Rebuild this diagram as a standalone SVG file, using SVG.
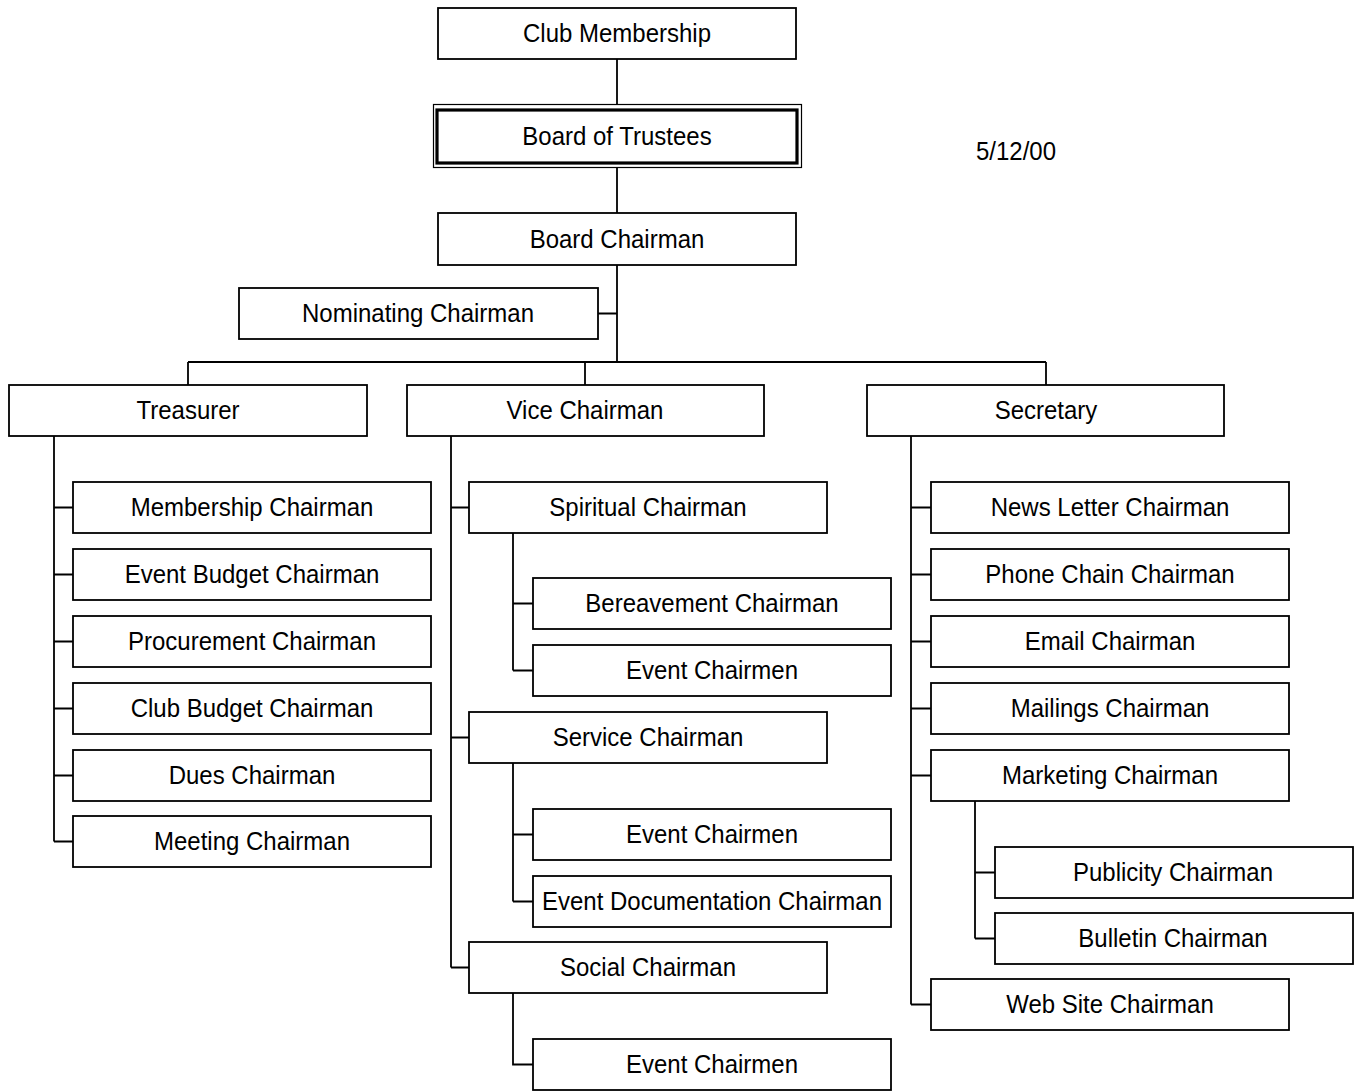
<svg xmlns="http://www.w3.org/2000/svg" width="1356" height="1091" viewBox="0 0 1356 1091">
<style>
.box{fill:#fff;stroke:#000;stroke-width:1.8}
.thin{fill:#fff;stroke:#000;stroke-width:1.2}
.thick{fill:none;stroke:#000;stroke-width:3.2}
.lbl{font-family:"Liberation Sans",Arial,sans-serif;font-size:24px;fill:#000;text-anchor:middle}
#connectors path{fill:none;stroke:#000;stroke-width:1.8}
</style>
<rect width="1356" height="1091" fill="#fff"/>
<g id="connectors">
<path d="M617 59V104M617 168V213M617 265V362M598 313.5H617M188 362H1046M188 362V385M585 362V385M1046 362V385"/>
<path d="M54 436V841.5M54 507.5H73M54 574.5H73M54 641.5H73M54 708.5H73M54 775.5H73M54 841.5H73"/>
<path d="M451 436V967.5M451 507.5H469M451 737.5H469M451 967.5H469"/>
<path d="M513 533V670.5M513 603.5H533M513 670.5H533"/>
<path d="M513 763V901.5M513 834.5H533M513 901.5H533"/>
<path d="M513 993V1064.5H533"/>
<path d="M911 436V1004.5M911 507.5H931M911 574.5H931M911 641.5H931M911 708.5H931M911 775.5H931M911 1004.5H931"/>
<path d="M975 801V938.5M975 872.5H995M975 938.5H995"/>
</g>
<g id="club"><rect class="box" x="438" y="8" width="358" height="51"/><text class="lbl" transform="translate(617 42) scale(1 1.1)">Club Membership</text></g>
<g id="trustees"><rect class="thin" x="433.5" y="104.5" width="368" height="63"/><rect class="thick" x="437" y="110" width="360" height="53"/><text class="lbl" transform="translate(617 145) scale(1 1.1)">Board of Trustees</text></g>
<g id="chairman"><rect class="box" x="438" y="213" width="358" height="52"/><text class="lbl" transform="translate(617 248) scale(1 1.1)">Board Chairman</text></g>
<g id="date"><text class="lbl" transform="translate(1016 160) scale(1 1.1)">5/12/00</text></g>
<g id="nominating"><rect class="box" x="239" y="288" width="359" height="51"/><text class="lbl" transform="translate(418 322) scale(1 1.1)">Nominating Chairman</text></g>
<g id="treasurer"><rect class="box" x="9" y="385" width="358" height="51"/><text class="lbl" transform="translate(188 419) scale(1 1.1)">Treasurer</text></g>
<g id="vice"><rect class="box" x="407" y="385" width="357" height="51"/><text class="lbl" transform="translate(585 419) scale(1 1.1)">Vice Chairman</text></g>
<g id="secretary"><rect class="box" x="867" y="385" width="357" height="51"/><text class="lbl" transform="translate(1046 419) scale(1 1.1)">Secretary</text></g>
<g id="membership"><rect class="box" x="73" y="482" width="358" height="51"/><text class="lbl" transform="translate(252 516) scale(1 1.1)">Membership Chairman</text></g>
<g id="eventbudget"><rect class="box" x="73" y="549" width="358" height="51"/><text class="lbl" transform="translate(252 583) scale(1 1.1)">Event Budget Chairman</text></g>
<g id="procurement"><rect class="box" x="73" y="616" width="358" height="51"/><text class="lbl" transform="translate(252 650) scale(1 1.1)">Procurement Chairman</text></g>
<g id="clubbudget"><rect class="box" x="73" y="683" width="358" height="51"/><text class="lbl" transform="translate(252 717) scale(1 1.1)">Club Budget Chairman</text></g>
<g id="dues"><rect class="box" x="73" y="750" width="358" height="51"/><text class="lbl" transform="translate(252 784) scale(1 1.1)">Dues Chairman</text></g>
<g id="meeting"><rect class="box" x="73" y="816" width="358" height="51"/><text class="lbl" transform="translate(252 850) scale(1 1.1)">Meeting Chairman</text></g>
<g id="spiritual"><rect class="box" x="469" y="482" width="358" height="51"/><text class="lbl" transform="translate(648 516) scale(1 1.1)">Spiritual Chairman</text></g>
<g id="bereavement"><rect class="box" x="533" y="578" width="358" height="51"/><text class="lbl" transform="translate(712 612) scale(1 1.1)">Bereavement Chairman</text></g>
<g id="event1"><rect class="box" x="533" y="645" width="358" height="51"/><text class="lbl" transform="translate(712 679) scale(1 1.1)">Event Chairmen</text></g>
<g id="service"><rect class="box" x="469" y="712" width="358" height="51"/><text class="lbl" transform="translate(648 746) scale(1 1.1)">Service Chairman</text></g>
<g id="event2"><rect class="box" x="533" y="809" width="358" height="51"/><text class="lbl" transform="translate(712 843) scale(1 1.1)">Event Chairmen</text></g>
<g id="eventdoc"><rect class="box" x="533" y="876" width="358" height="51"/><text class="lbl" transform="translate(712 910) scale(1 1.1)">Event Documentation Chairman</text></g>
<g id="social"><rect class="box" x="469" y="942" width="358" height="51"/><text class="lbl" transform="translate(648 976) scale(1 1.1)">Social Chairman</text></g>
<g id="event3"><rect class="box" x="533" y="1039" width="358" height="51"/><text class="lbl" transform="translate(712 1073) scale(1 1.1)">Event Chairmen</text></g>
<g id="newsletter"><rect class="box" x="931" y="482" width="358" height="51"/><text class="lbl" transform="translate(1110 516) scale(1 1.1)">News Letter Chairman</text></g>
<g id="phonechain"><rect class="box" x="931" y="549" width="358" height="51"/><text class="lbl" transform="translate(1110 583) scale(1 1.1)">Phone Chain Chairman</text></g>
<g id="email"><rect class="box" x="931" y="616" width="358" height="51"/><text class="lbl" transform="translate(1110 650) scale(1 1.1)">Email Chairman</text></g>
<g id="mailings"><rect class="box" x="931" y="683" width="358" height="51"/><text class="lbl" transform="translate(1110 717) scale(1 1.1)">Mailings Chairman</text></g>
<g id="marketing"><rect class="box" x="931" y="750" width="358" height="51"/><text class="lbl" transform="translate(1110 784) scale(1 1.1)">Marketing Chairman</text></g>
<g id="publicity"><rect class="box" x="995" y="847" width="358" height="51"/><text class="lbl" transform="translate(1173 881) scale(1 1.1)">Publicity Chairman</text></g>
<g id="bulletin"><rect class="box" x="995" y="913" width="358" height="51"/><text class="lbl" transform="translate(1173 947) scale(1 1.1)">Bulletin Chairman</text></g>
<g id="website"><rect class="box" x="931" y="979" width="358" height="51"/><text class="lbl" transform="translate(1110 1013) scale(1 1.1)">Web Site Chairman</text></g>
</svg>
